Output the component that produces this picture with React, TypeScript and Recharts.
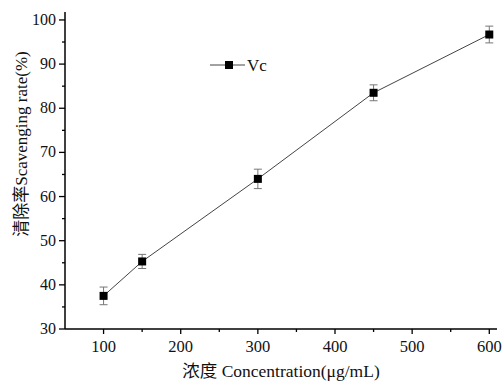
import React from 'react';
import { LineChart, Line, XAxis, YAxis, ErrorBar, Legend, Label } from 'recharts';

const concentrations = [100, 150, 300, 450, 600];
const scavengingRates = [37.5, 45.3, 64.0, 83.5, 96.7];
const errorValues = [2.0, 1.6, 2.2, 1.8, 1.9];
const xTicks = [100, 150, 200, 250, 300, 350, 400, 450, 500, 550, 600];
const yTicks = [30, 35, 40, 45, 50, 55, 60, 65, 70, 75, 80, 85, 90, 95, 100];
const seriesName = 'Vc';
const xLabel = '浓度 Concentration(μg/mL)';
const yLabel = '清除率Scavenging rate(%)';

const data = concentrations.map((c, i) => ({
  x: c,
  y: scavengingRates[i],
  err: errorValues[i],
}));

const FONT = "'Liberation Serif', 'Times New Roman', 'Noto Sans CJK SC', serif";

const XTick = (props: any) => {
  const { x, y, payload } = props;
  const major = payload.value % 100 === 0;
  return (
    <g>
      <line x1={x} y1={y} x2={x} y2={y + (major ? 5 : 3)} stroke="#000" strokeWidth={1.3} />
      {major && (
        <text x={x} y={y + 23} textAnchor="middle" fontSize={16.5} fontFamily={FONT} fill="#111">
          {payload.value}
        </text>
      )}
    </g>
  );
};

const YTick = (props: any) => {
  const { x, y, payload } = props;
  const major = payload.value % 10 === 0;
  return (
    <g>
      <line x1={x} y1={y} x2={x - (major ? 6 : 3)} y2={y} stroke="#000" strokeWidth={1.3} />
      {major && (
        <text x={x - 9} y={y + 5} textAnchor="end" fontSize={16} fontFamily={FONT} fill="#111">
          {payload.value}
        </text>
      )}
    </g>
  );
};

const SquareDot = (props: any) => {
  const { cx, cy, index } = props;
  return <rect key={`dot-${index}`} x={cx - 4} y={cy - 4} width={8} height={8} fill="#000" />;
};

const LegendContent = () => (
  <svg width={70} height={22}>
    <line x1={2} y1={11} x2={37} y2={11} stroke="#444" strokeWidth={1} />
    <rect x={17} y={7} width={8} height={8} fill="#000" />
    <text x={39} y={17} fontSize={17} fontFamily={FONT} fill="#111">{seriesName}</text>
  </svg>
);

export default function App() {
  return (
    <div style={{ position: 'absolute', left: 0, top: 0, width: 502, height: 382, background: '#fff' }}>
      <LineChart
        width={502}
        height={382}
        data={data}
        margin={{ top: 12, right: 5, left: 0, bottom: 0 }}
      >
        <XAxis
          dataKey="x"
          type="number"
          domain={[50, 610]}
          ticks={xTicks}
          interval={0}
          height={53}
          tickSize={0}
          tickMargin={0}
          tickLine={false}
          tick={<XTick />}
          axisLine={{ stroke: '#000', strokeWidth: 1.5 }}
        >
          <Label
            value={xLabel}
            position="insideBottom"
            offset={5}
            style={{ fontSize: 17.5, fontFamily: FONT, fill: '#111' }}
          />
        </XAxis>
        <YAxis
          type="number"
          domain={[30, 101.8]}
          ticks={yTicks}
          interval={0}
          width={65}
          tickSize={0}
          tickMargin={0}
          tickLine={false}
          tick={<YTick />}
          axisLine={{ stroke: '#000', strokeWidth: 1.5 }}
          allowDataOverflow
        >
          <Label
            content={() => (
              <text
                x={21}
                y={144}
                transform="rotate(-90 21 144)"
                textAnchor="middle"
                dominantBaseline="central"
                fontSize={17}
                fontFamily={FONT}
                fill="#111"
              >
                {yLabel}
              </text>
            )}
          />
        </YAxis>
        <Legend
          layout="vertical"
          align="center"
          verticalAlign="middle"
          content={<LegendContent />}
          wrapperStyle={{ position: 'absolute', left: 208, top: 54, width: 70 }}
        />
        <Line
          dataKey="y"
          name={seriesName}
          stroke="#444"
          strokeWidth={1}
          dot={<SquareDot />}
          activeDot={false}
          isAnimationActive={false}
        >
          <ErrorBar dataKey="err" direction="y" width={4} stroke="#777" strokeWidth={1} isAnimationActive={false} />
        </Line>
      </LineChart>
    </div>
  );
}
